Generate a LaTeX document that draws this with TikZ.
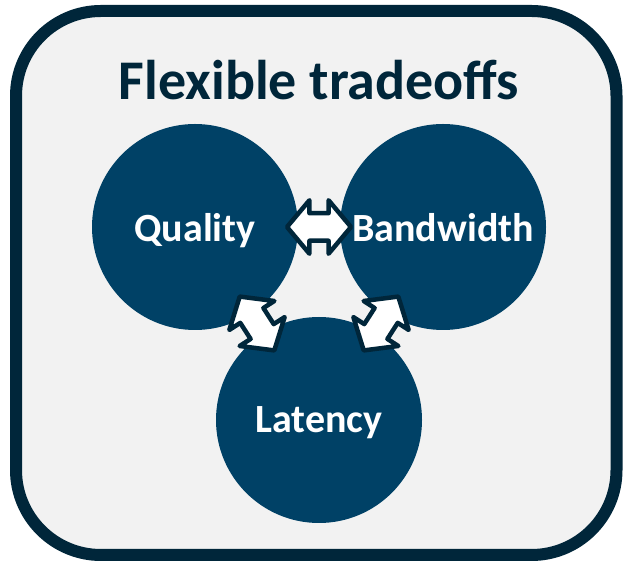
\documentclass[tikz,border=0pt]{standalone}
\usepackage{fontspec}
\setmainfont{Carlito}
\usetikzlibrary{shapes.arrows}

\definecolor{navydark}{RGB}{0,38,58}
\definecolor{navycircle}{RGB}{0,65,102}
\definecolor{panelgray}{RGB}{242,242,242}

\begin{document}
\begin{tikzpicture}[x=1pt, y=1pt,
  panel/.style = {draw=navydark, line width=12pt, fill=panelgray,
    rounded corners=85pt},
  topic/.style = {shape=circle, fill=navycircle, minimum size=206pt,
    inner sep=0pt, text depth=0pt, text=white,
    font=\bfseries\fontsize{40}{44}\selectfont},
  tradearrow/.style = {double arrow, draw=navydark, fill=white,
    line width=4.5pt, line join=round, inner xsep=0pt, inner ysep=11.5pt,
    minimum height=64pt, double arrow head extend=13pt,
    double arrow tip angle=100}]
  \useasboundingbox (0,0) rectangle (623,561);
  \draw[panel] (16,6) rectangle (616.5,550);
  \node[anchor=base, text=navydark, font=\bfseries\fontsize{56}{60}\selectfont]
    (title) at (319,461) {Flexible tradeoffs};
  % the three circles
  \node[topic] (quality) at (195,334) {Quality};
  \node[topic] (bandwidth) at (443,334) {Bandwidth};
  \node[topic] (latency) at (319,141) {Latency};
  % double arrows between them
  \path (quality) -- node[sloped, tradearrow] (qb) {} (bandwidth);
  \path (quality) -- node[sloped, tradearrow] (ql) {} (latency);
  \path (bandwidth) -- node[sloped, tradearrow] (bl) {} (latency);
\end{tikzpicture}
\end{document}
